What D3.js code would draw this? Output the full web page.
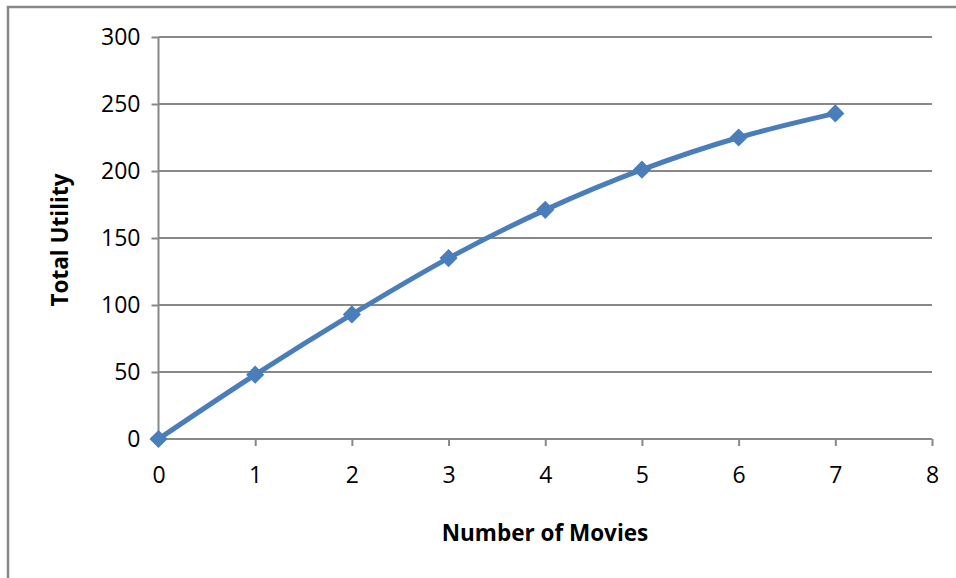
<!DOCTYPE html>
<html lang="en">
<head>
    <meta charset="UTF-8">
    <title>Total Utility</title>
    <script src="https://cdn.jsdelivr.net/npm/d3@7"></script>
    <style>
        body { margin: 0; background: #fff; }
        text { font-family: "Open Sans", "Liberation Sans", sans-serif; fill: #000; }
    </style>
</head>
<body>
    <svg id="svg" width="956" height="578"></svg>
    <script>
        const movies = [0, 1, 2, 3, 4, 5, 6, 7]
        const utility = [0, 48, 93, 135, 171, 201, 225, 243]
        const xTicks = [0, 1, 2, 3, 4, 5, 6, 7, 8]
        const yTicks = [0, 50, 100, 150, 200, 250, 300]

        const data = movies.map((m, i) => ({x: m, y: utility[i]}))

        const svg = d3.select("#svg")
        const width = +svg.attr("width"), height = +svg.attr("height")
        const margin = {top: 37, left: 158.5}
        const innerWidth = 932 - margin.left
        const innerHeight = 439 - margin.top

        // chart frame: only top and left edges show in the picture
        svg.append("path")
            .attr("d", `M8,${height}V7H${width}`)
            .attr("fill", "none")
            .attr("stroke", "#888").attr("stroke-width", 2.5)

        const g = svg.append("g")
            .attr("transform", `translate(${margin.left}, ${margin.top})`)

        const xScale = d3.scaleLinear().domain([0, 8]).range([0, innerWidth])
        const yScale = d3.scaleLinear().domain([0, 300]).range([innerHeight, 0])

        const xAxis = d3.axisBottom(xScale).tickValues(xTicks).tickSize(7).tickPadding(21)
        const yAxis = d3.axisLeft(yScale).tickValues(yTicks).tickSize(7).tickPadding(11)

        // horizontal gridlines
        g.append("g").attr("class", "grid")
            .selectAll("line").data(yTicks.filter(d => d > 0)).join("line")
            .attr("x1", 0).attr("x2", innerWidth)
            .attr("y1", d => yScale(d)).attr("y2", d => yScale(d))
            .attr("stroke", "#888").attr("stroke-width", 2)

        const xg = g.append("g").attr("transform", `translate(0, ${innerHeight})`).call(xAxis)
        const yg = g.append("g").call(yAxis)
        ;[xg, yg].forEach(a => {
            a.select(".domain").attr("stroke", "#888").attr("stroke-width", 2)
            a.selectAll(".tick line").attr("stroke", "#888").attr("stroke-width", 2)
            a.selectAll(".tick text").style("font-size", "23px").attr("fill", "#000")
        })
        xg.select(".domain").attr("d", `M0,0H${innerWidth}`)
        yg.select(".domain").attr("d", `M0,0V${innerHeight}`)

        const line = d3.line()
            .x(d => xScale(d.x))
            .y(d => yScale(d.y))
            .curve(d3.curveCatmullRom.alpha(0.5))

        g.append("path").datum(data)
            .attr("d", line)
            .attr("fill", "none")
            .attr("stroke", "#4a7ebb")
            .attr("stroke-width", 5)

        g.selectAll(".marker").data(data).join("path")
            .attr("class", "marker")
            .attr("d", d3.symbol(d3.symbolSquare, 165))
            .attr("transform", d => `translate(${xScale(d.x)}, ${yScale(d.y)}) rotate(45)`)
            .attr("fill", "#4a7ebb")

        svg.append("text")
            .attr("x", 545).attr("y", 541)
            .attr("text-anchor", "middle")
            .style("font-size", "22.5px").style("font-weight", "bold")
            .text("Number of Movies")

        svg.append("text")
            .attr("transform", "translate(68, 240) rotate(-90)")
            .attr("text-anchor", "middle")
            .style("font-size", "22.5px").style("font-weight", "bold")
            .text("Total Utility")
    </script>
</body>
</html>
